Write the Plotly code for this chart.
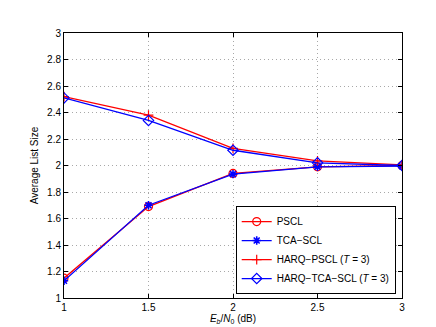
import plotly.graph_objects as go

snr = [1, 1.5, 2, 2.5, 3]
pscl = [1.15, 1.69, 1.94, 1.99, 2.00]
tca_scl = [1.13, 1.70, 1.935, 1.99, 1.995]
harq_pscl = [2.52, 2.38, 2.13, 2.035, 2.005]
harq_tca = [2.51, 2.34, 2.115, 2.02, 2.00]

RED = "#ff0000"
BLUE = "#0000ff"

fig = go.Figure()
fig.add_trace(go.Scatter(x=snr, y=pscl, name="PSCL", mode="lines+markers",
                         line=dict(color=RED, width=1.3),
                         marker=dict(symbol="circle-open", size=8, color=RED, line=dict(width=1.2))))
fig.add_trace(go.Scatter(x=snr, y=tca_scl, name="TCA\u2212SCL", mode="lines+markers",
                         line=dict(color=BLUE, width=1.3),
                         marker=dict(symbol="asterisk-open", size=7, color=BLUE, line=dict(width=1.6, color=BLUE))))
fig.add_trace(go.Scatter(x=snr, y=harq_pscl, name="HARQ\u2212PSCL (<i>T</i> = 3)", mode="lines+markers",
                         line=dict(color=RED, width=1.3),
                         marker=dict(symbol="cross-thin-open", size=7, color=RED, line=dict(width=1.2, color=RED))))
fig.add_trace(go.Scatter(x=snr, y=harq_tca, name="HARQ\u2212TCA\u2212SCL (<i>T</i> = 3)", mode="lines+markers",
                         line=dict(color=BLUE, width=1.3),
                         marker=dict(symbol="diamond-open", size=8, color=BLUE, line=dict(width=1.2))))

axis_common = dict(showline=True, mirror="ticks", linecolor="black", linewidth=1,
                   ticks="inside", ticklen=4, tickcolor="black", automargin=False,
                   showgrid=True, gridcolor="#a8a8a8", griddash="1px,3px", gridwidth=1,
                   zeroline=False, tickfont=dict(size=10, color="black"))

fig.update_xaxes(range=[1, 3], tickvals=snr, ticktext=["1", "1.5", "2", "2.5", "3"],
                 title=dict(text="<i>E</i><sub><i>b</i></sub>/<i>N</i><sub>0</sub> (dB)",
                            font=dict(size=10, color="black"), standoff=2),
                 **axis_common)
fig.update_yaxes(range=[1, 3], dtick=0.2, tickformat="~g",
                 title=dict(text="Average List Size", font=dict(size=10, color="black"), standoff=6),
                 **axis_common)

fig.update_layout(
    width=436, height=327,
    margin=dict(l=56, r=42, t=25, b=37),
    paper_bgcolor="white", plot_bgcolor="white",
    font=dict(family="Liberation Sans, Arial, sans-serif", size=10, color="black"),
    showlegend=True,
    legend=dict(x=0.508, y=0.015, xanchor="left", yanchor="bottom",
                bgcolor="white", bordercolor="black", borderwidth=1,
                font=dict(size=10), tracegroupgap=0, itemwidth=30),
)

fig.write_html("out.html")
